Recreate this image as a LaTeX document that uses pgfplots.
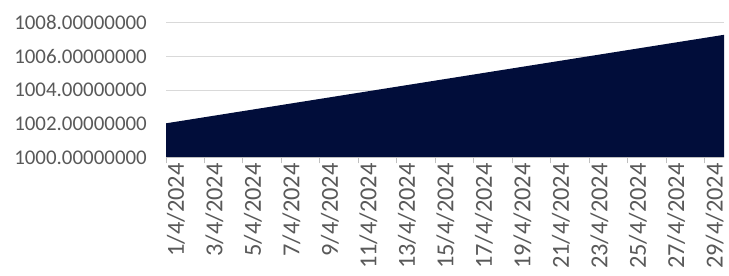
\documentclass[border=0pt]{standalone}
\usepackage{fontspec}
\setmainfont{Carlito}
\usepackage{pgfplots}
\pgfplotsset{compat=1.18}
\definecolor{areacol}{RGB}{1,13,58}
\definecolor{txtgray}{RGB}{89,89,89}
\definecolor{gridgray}{RGB}{217,217,217}
\definecolor{axgray}{RGB}{191,191,191}
\begin{document}
\begin{tikzpicture}
\useasboundingbox[clip] (0bp,0bp) rectangle (729bp,276bp);
\begin{axis}[
  at={(166bp,118.7bp)}, anchor=south west,
  scale only axis, width=558bp, height=134.6bp,
  xmin=1, xmax=30, ymin=1000, ymax=1008,
  axis x line*=bottom, axis y line*=left,
  y axis line style={draw=none},
  x axis line style={draw=axgray, line width=1pt},
  ytick={1000,1002,1004,1006,1008},
  yticklabels={1000.00000000,1002.00000000,1004.00000000,1006.00000000,1008.00000000},
  xtick={1,3,...,29},
  xticklabels={1/4/2024,3/4/2024,5/4/2024,7/4/2024,9/4/2024,11/4/2024,13/4/2024,15/4/2024,17/4/2024,19/4/2024,21/4/2024,23/4/2024,25/4/2024,27/4/2024,29/4/2024},
  tick align=outside,
  major tick length=6bp,
  ytick style={draw=none},
  xtick style={draw=axgray, line width=1pt},
  ymajorgrids, grid style={draw=gridgray, line width=1pt},
  tick label style={text=txtgray, inner sep=0pt},
  yticklabel style={font=\fontsize{21}{24}\selectfont, anchor=east, xshift=-13bp},
  xticklabel style={font=\fontsize{24.5}{28}\selectfont, rotate=90, anchor=east, yshift=-10bp},
  clip=false,
  after end axis/.code={
    \draw[axgray, line width=1pt] (rel axis cs:0,0) -- (rel axis cs:1,0);
  },
]
\addplot[fill=areacol, draw=none] coordinates {
(1,1002.020) (2,1002.201) (3,1002.383) (4,1002.564) (5,1002.746)
(6,1002.927) (7,1003.108) (8,1003.290) (9,1003.471) (10,1003.653)
(11,1003.834) (12,1004.015) (13,1004.197) (14,1004.378) (15,1004.560)
(16,1004.741) (17,1004.922) (18,1005.104) (19,1005.285) (20,1005.467)
(21,1005.648) (22,1005.829) (23,1006.011) (24,1006.192) (25,1006.374)
(26,1006.555) (27,1006.736) (28,1006.918) (29,1007.099) (30,1007.281)
} \closedcycle;
\end{axis}
\end{tikzpicture}
\end{document}
